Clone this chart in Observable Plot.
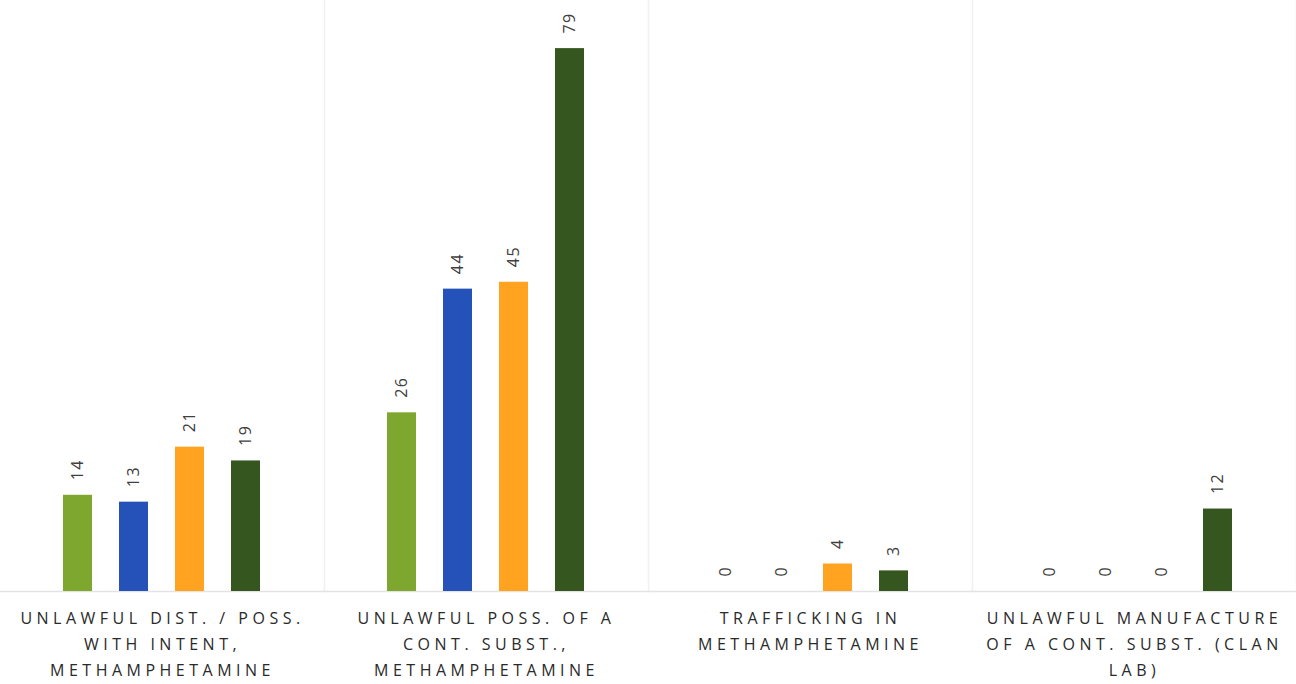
<!DOCTYPE html>
<html>
<head>
<meta charset="utf-8">
<script src="https://cdn.jsdelivr.net/npm/d3@7"></script>
<script src="https://cdn.jsdelivr.net/npm/@observablehq/plot@0.6"></script>
<style>
  html, body { margin: 0; padding: 0; background: #fff; }
  #chart svg { display: block; }
  #chart .grp-axis text { letter-spacing: 4.5px; }
  #chart .vlabels text { letter-spacing: 1.5px; }
</style>
</head>
<body>
<div id="chart"></div>
<script>
const groups = [
  "UNLAWFUL DIST. / POSS. WITH INTENT, METHAMPHETAMINE",
  "UNLAWFUL POSS. OF A CONT. SUBST., METHAMPHETAMINE",
  "TRAFFICKING IN METHAMPHETAMINE",
  "UNLAWFUL MANUFACTURE OF A CONT. SUBST. (CLAN LAB)"
];
const groupLabels = [
  "UNLAWFUL DIST. / POSS.\nWITH INTENT,\nMETHAMPHETAMINE",
  "UNLAWFUL POSS. OF A\nCONT. SUBST.,\nMETHAMPHETAMINE",
  "TRAFFICKING IN\nMETHAMPHETAMINE",
  "UNLAWFUL MANUFACTURE\nOF A CONT. SUBST. (CLAN\nLAB)"
];
const series = ["S1", "S2", "S3", "S4"];
const seriesColors = ["#7ea72f", "#2452b8", "#ffa321", "#365620"];
const valuesS1 = [14, 26, 0, 0];
const valuesS2 = [13, 44, 0, 0];
const valuesS3 = [21, 45, 4, 0];
const valuesS4 = [19, 79, 3, 12];

const allValues = [valuesS1, valuesS2, valuesS3, valuesS4];
const data = [];
groups.forEach((g, gi) => {
  series.forEach((s, si) => {
    data.push({group: g, series: s, value: allValues[si][gi]});
  });
});
const labelOf = new Map(groups.map((g, i) => [g, groupLabels[i]]));

const chart = Plot.plot({
  width: 1296,
  height: 684,
  marginLeft: 0,
  marginRight: 0,
  marginTop: 0,
  marginBottom: 93,
  style: {fontFamily: "'Open Sans', 'DejaVu Sans', sans-serif", background: "#fff"},
  fx: {domain: groups, padding: 0, label: null},
  x: {domain: series, paddingInner: 0.48, paddingOuter: 1.13, axis: null},
  y: {domain: [0, 86], axis: null},
  color: {domain: series, range: seriesColors},
  marks: [
    Plot.frame({anchor: "right", stroke: "#f0f0f0", strokeWidth: 1.5}),
    Plot.ruleY([0], {stroke: "#e3e3e3", strokeWidth: 1.5}),
    Plot.barY(data, {fx: "group", x: "series", y: "value", fill: "series"}),
    Plot.text(data, {
      fx: "group", x: "series", y: "value", text: d => String(d.value),
      rotate: -90, textAnchor: "start", dy: -15, fontSize: 16, fill: "#404040",
      className: "vlabels"
    }),
    Plot.axisFx({
      anchor: "bottom", tickSize: 0, tickPadding: 14, label: null,
      tickFormat: g => labelOf.get(g), fontSize: 16, lineHeight: 1.62,
      textAnchor: "middle", lineAnchor: "top", fill: "#2a2a2a", className: "grp-axis"
    })
  ]
});
document.getElementById("chart").appendChild(chart);
</script>
</body>
</html>
